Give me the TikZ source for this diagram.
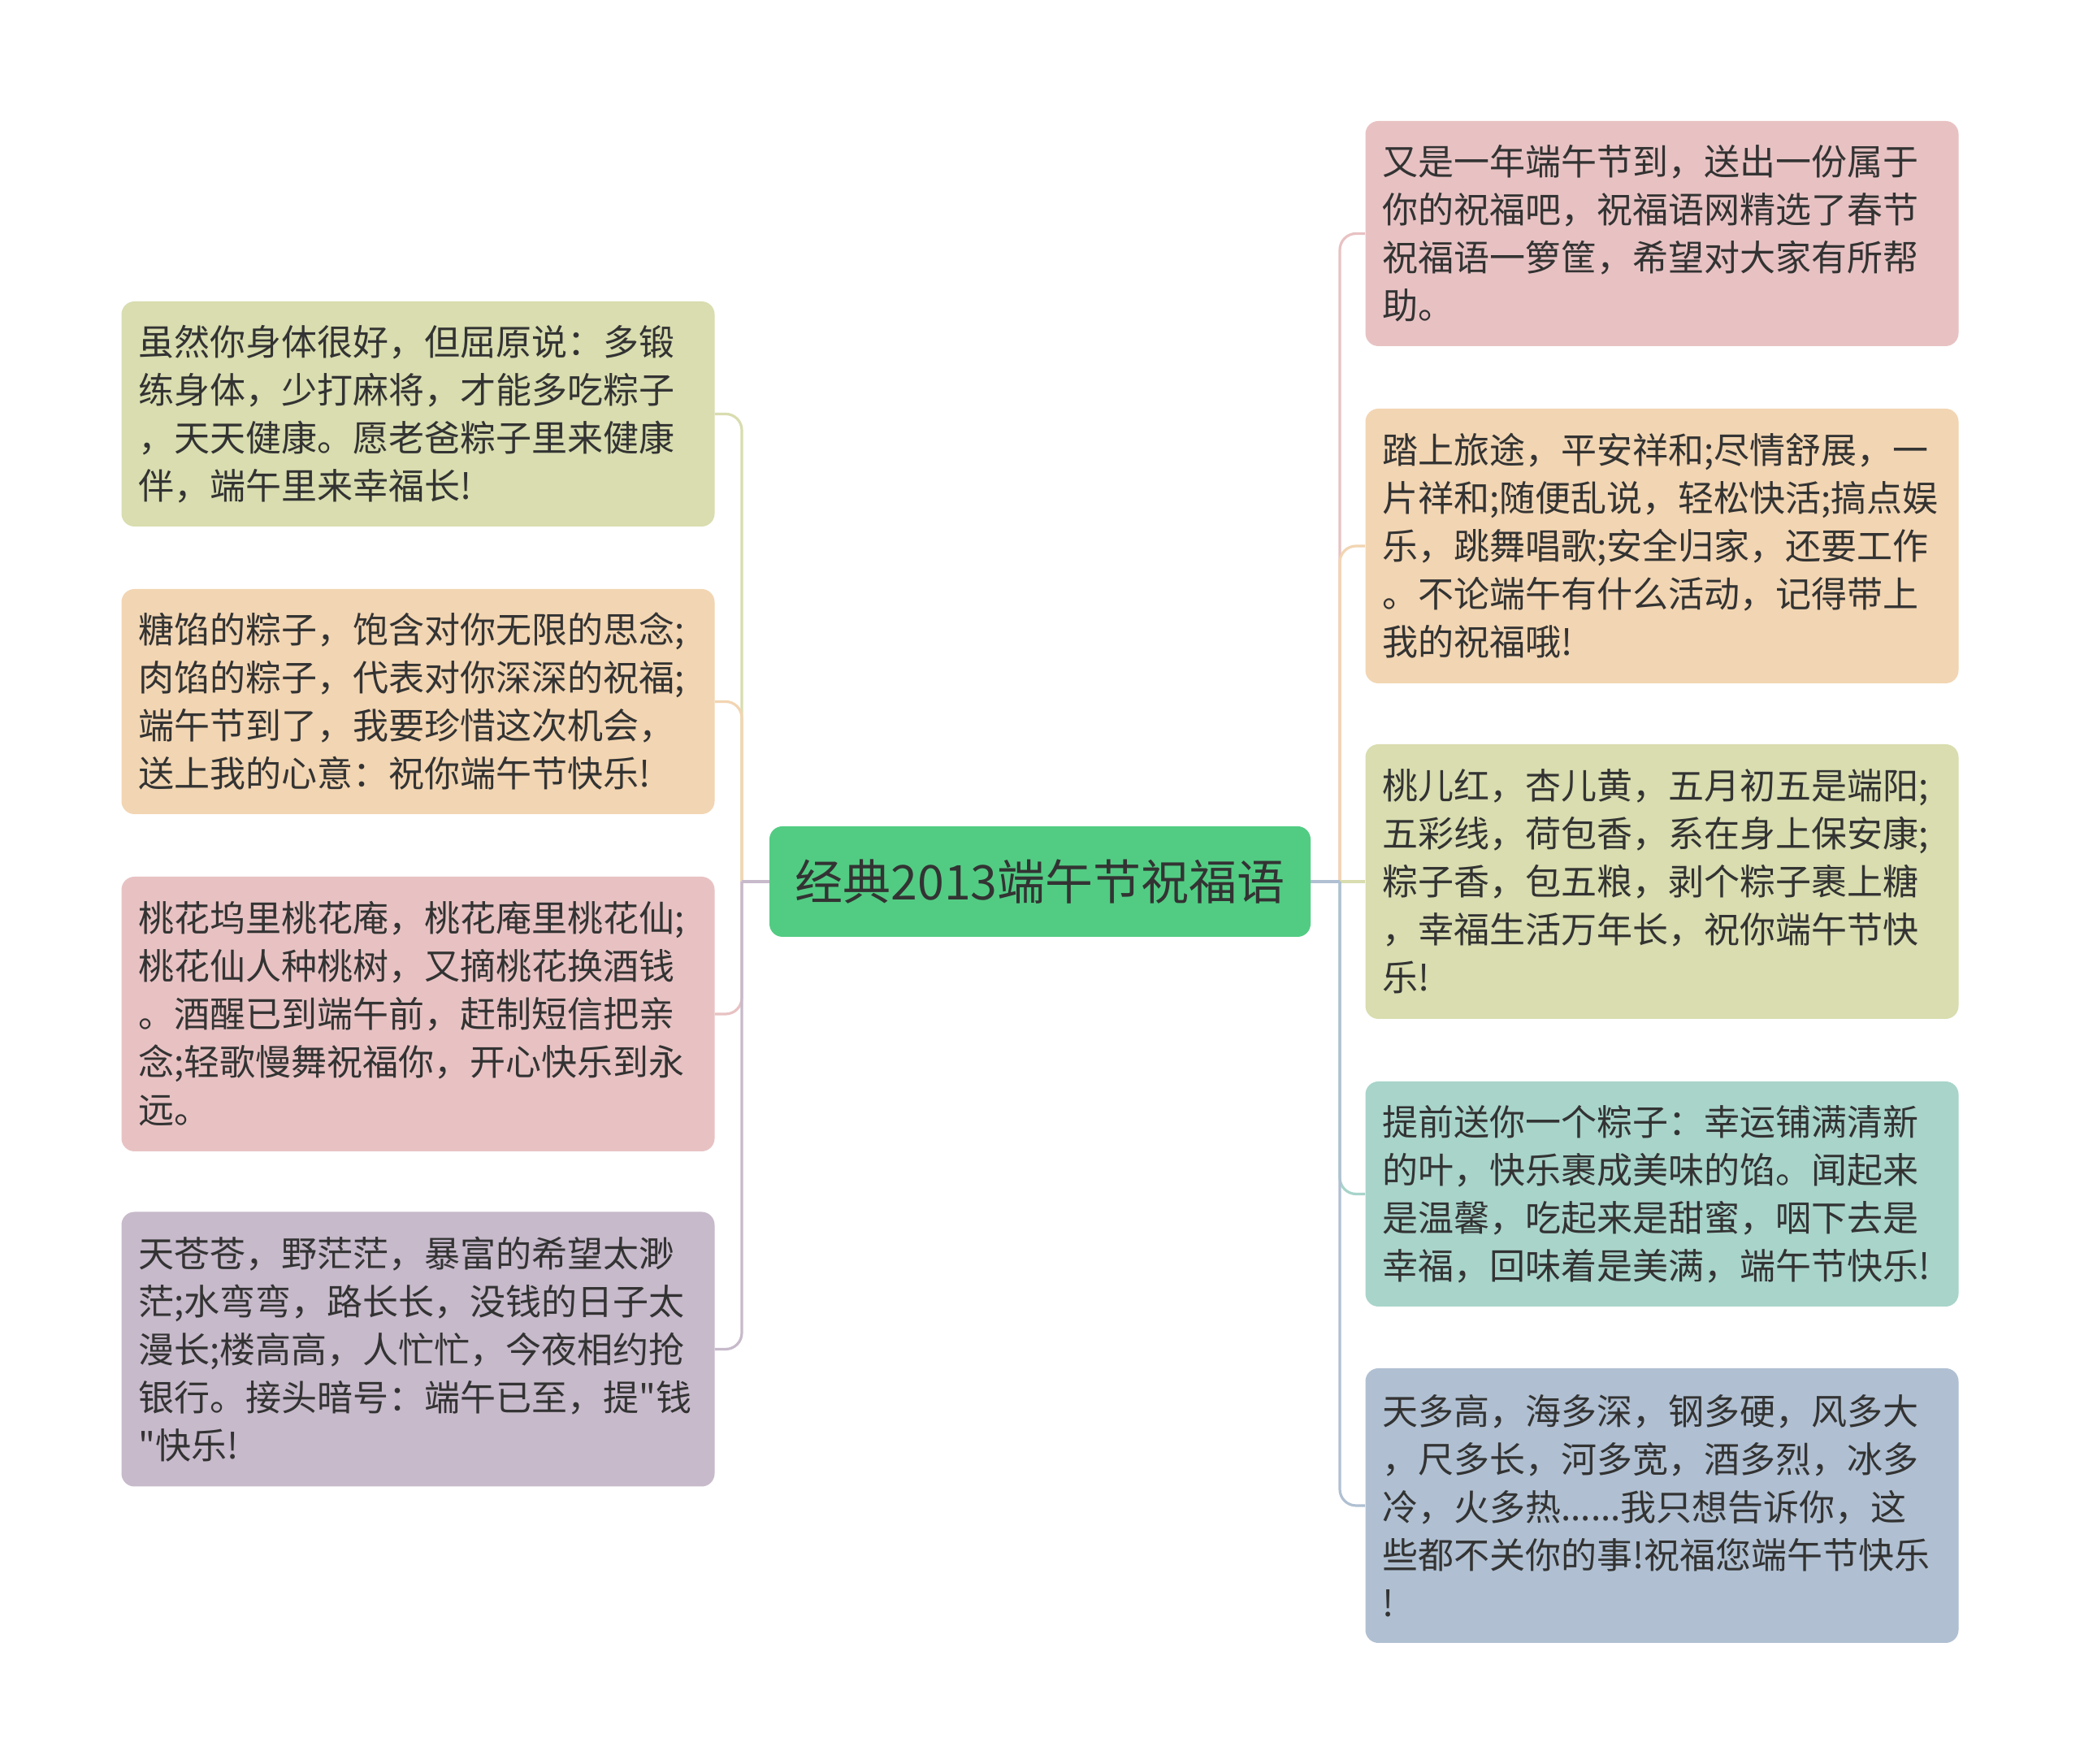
\documentclass[tikz,border=0pt]{standalone}
\usepackage{fontspec}
\setmainfont{Noto Sans CJK SC}
\newfontfamily\rawfont{Noto Sans CJK SC}
\definecolor{ink}{RGB}{51,51,51}
\definecolor{cchub}{RGB}{82,204,131}
\definecolor{ccgreen}{RGB}{217,221,175}
\definecolor{ccpeach}{RGB}{242,213,178}
\definecolor{ccpink}{RGB}{232,194,195}
\definecolor{cclilac}{RGB}{199,186,203}
\definecolor{ccteal}{RGB}{168,212,202}
\definecolor{ccslate}{RGB}{176,192,210}

\begin{document}
\begin{tikzpicture}[x=1pt,y=1pt,
  box/.style={rounded corners=8pt,align=left,text width=344pt,inner xsep=10.5pt,inner ysep=0pt,
    minimum height=138.5pt,text=ink,font=\fontsize{22pt}{29.5pt}\selectfont},
  tall/.style={box,minimum height=169pt},
  hub/.style={rounded corners=8pt,fill=cchub,minimum width=333pt,minimum height=68pt,
    inner sep=0pt,text=ink,font=\fontsize{29.5pt}{36pt}\selectfont},
  ln/.style={line width=1.6pt,rounded corners=10pt}]
\fill[white] (0,0) rectangle (1280,1085.5);
\useasboundingbox (0,0) rectangle (1280,1085.5);
% centre
\node[hub] (hub) at (640,543) {经典2013端午节祝福语};
% left side
\node[box,fill=ccgreen] (l1) at (257.25,830.75)
  {虽然你身体很好，但屈原说：多锻\\练身体，少打麻将，才能多吃粽子\\，天天健康。愿老爸粽子里来健康\\伴，端午里来幸福长!};
\node[box,fill=ccpeach] (l2) at (257.25,653.75)
  {糖馅的粽子，饱含对你无限的思念;\\肉馅的粽子，代表对你深深的祝福;\\端午节到了，我要珍惜这次机会，\\送上我的心意：祝你端午节快乐!};
\node[tall,fill=ccpink] (l3) at (257.25,461.5)
  {桃花坞里桃花庵，桃花庵里桃花仙;\\桃花仙人种桃树，又摘桃花换酒钱\\。酒醒已到端午前，赶制短信把亲\\念;轻歌慢舞祝福你，开心快乐到永\\远。};
\node[tall,fill=cclilac] (l4) at (257.25,255.25)
  {天苍苍，野茫茫，暴富的希望太渺\\茫;水弯弯，路长长，没钱的日子太\\漫长;楼高高，人忙忙，今夜相约抢\\银行。接头暗号：端午已至，提{\rawfont"}钱\\{\rawfont"}快乐!};
% right side
\node[box,fill=ccpink] (r1) at (1022.75,941.75)
  {又是一年端午节到，送出一份属于\\你的祝福吧，祝福语网精选了春节\\祝福语一箩筐，希望对大家有所帮\\助。};
\node[tall,fill=ccpeach] (r2) at (1022.75,749.5)
  {踏上旅途，平安祥和;尽情舒展，一\\片祥和;随便乱说，轻松快活;搞点娱\\乐，跳舞唱歌;安全归家，还要工作\\。不论端午有什么活动，记得带上\\我的祝福哦!};
\node[tall,fill=ccgreen] (r3) at (1022.75,543)
  {桃儿红，杏儿黄，五月初五是端阳;\\五彩线，荷包香，系在身上保安康;\\粽子香，包五粮，剥个粽子裹上糖\\，幸福生活万年长，祝你端午节快\\乐!};
\node[box,fill=ccteal] (r4) at (1022.75,350.75)
  {提前送你一个粽子：幸运铺满清新\\的叶，快乐裹成美味的馅。闻起来\\是温馨，吃起来是甜蜜，咽下去是\\幸福，回味着是美满，端午节快乐!};
\node[tall,fill=ccslate] (r5) at (1022.75,159)
  {天多高，海多深，钢多硬，风多大\\，尺多长，河多宽，酒多烈，冰多\\冷，火多热......我只想告诉你，这\\些都不关你的事!祝福您端午节快乐\\!};
% branches
\coordinate (lj) at (456.5,543);
\coordinate (rj) at (824.5,543);
\draw[ln,ccgreen] (lj) |- (l1.east);
\draw[ln,ccpeach] (lj) |- (l2.east);
\draw[ln,ccpink] (lj) |- (l3.east);
\draw[ln,cclilac] (lj) |- (l4.east);
\draw[ln,cclilac] (hub.west) -- (lj);
\draw[ln,ccpink] (rj) |- (r1.west);
\draw[ln,ccpeach] (rj) |- (r2.west);
\draw[ln,ccgreen] (rj) -- (r3.west);
\draw[ln,ccteal] (rj) |- (r4.west);
\draw[ln,ccslate] (rj) |- (r5.west);
\draw[ln,ccslate] (hub.east) -- (rj);
\end{tikzpicture}
\end{document}
